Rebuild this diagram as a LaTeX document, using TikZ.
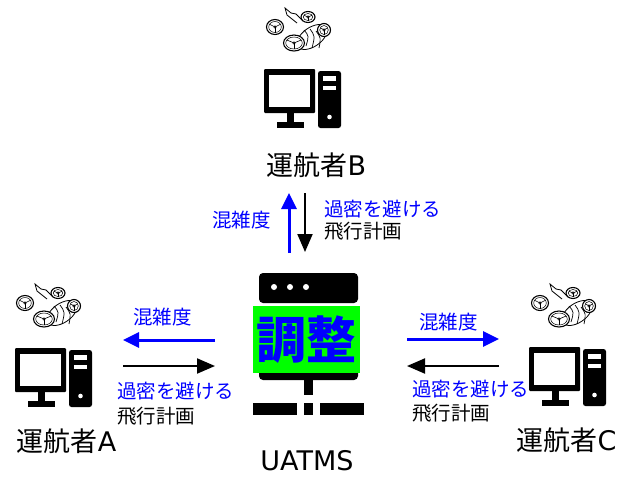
\documentclass[tikz,border=0pt]{standalone}
\usepackage{fontspec}
\setmainfont{DejaVu Sans}
\newfontfamily\cjk{Noto Sans CJK JP}
\usetikzlibrary{arrows.meta}
\definecolor{msgblue}{RGB}{0,0,255}
\definecolor{hlgreen}{RGB}{0,255,0}
\tikzset{
  lbl/.style={inner sep=0pt, font=\fontsize{27}{27}\selectfont},
  msg/.style={inner sep=0pt, anchor=west, font=\cjk\fontsize{19.5}{19.5}\selectfont},
  bluemsg/.style={msg, text=msgblue},
  bluearrow/.style={draw=msgblue, line width=3pt, -{Triangle[length=16pt,width=15pt]}},
  blackarrow/.style={draw=black, line width=2pt, -{Triangle[length=18pt,width=15pt]}},
  rotor/.style={draw=black, line width=1.1pt, fill=white},
  pics/computer/.style={code={
    % monitor
    \fill[rounded corners=1pt] (0,0) rectangle (51,44);
    \fill[white] (5,6) rectangle (46,38);
    \fill (23,44) rectangle (30,53);
    \fill (13,53) rectangle (40,59);
    % tower
    \fill[rounded corners=2.5pt] (54,2) rectangle (77,59);
    \fill[white] (59,7) rectangle (72,12);
    \fill[white] (59,16.5) rectangle (72,21);
    \fill[white] (65.5,48) circle (2.3);
  }},
  pics/drone/.style={code={
    % tail fin and boom
    \draw[line width=0.8pt, fill=white] (22,-4) -- (12,-12) -- (10,-19) -- (16,-14) -- (21,-13) -- (28,-6);
    % fuselage
    \draw[line width=0.8pt, fill=white, rotate around={35:(37,10)}] (37,10) ellipse [x radius=17, y radius=9.5];
    \draw[line width=0.7pt] (29,3) .. controls (34,9) .. (31,19);
    \draw[line width=0.7pt] (35,2) .. controls (40,9) .. (37,21);
    \draw[line width=0.7pt] (41,4) .. controls (46,11) .. (44,21);
    % rotors
    \foreach \cx/\cy/\rx/\ry in {33/-10/7/5.5, 49/3/6.5/6.5, 0/0/8.5/7.5, 19/16/10.5/8} {
      \draw[rotor] (\cx,\cy) ellipse [x radius=\rx, y radius=\ry];
      \draw[line width=0.5pt] (\cx,\cy) ellipse [x radius=\rx-2.2, y radius=\ry-2];
      \draw[line width=0.5pt] (\cx,\cy) circle (1.3);
      \foreach \a in {90,210,330}
        \draw[line width=0.6pt] (\cx,\cy) -- ++(\a:{\rx-2.2} and {\ry-2});
    }
  }}
}
\begin{document}
\begin{tikzpicture}[x=1pt, y=-1pt]
\useasboundingbox (0,0) rectangle (623,477);

% operator stations
\pic at (264,69) {computer};
\pic at (15,348) {computer};
\pic at (529,347) {computer};
\pic at (275,27) {drone};
\pic at (25,303) {drone};
\pic at (540,303) {drone};

\node[lbl] (opB) at (316.5,165) {{\cjk 運航者}B};
\node[lbl] (opA) at (66.5,441) {{\cjk 運航者}A};
\node[lbl] (opC) at (566.5,440) {{\cjk 運航者}C};

% UATMS server
\fill[rounded corners=4pt] (259,273) rectangle (358,303);
\foreach \dx in {274,290,306} \fill[white] (\dx,287) circle (3);
\fill[rounded corners=4pt] (259,340) rectangle (358,380);
\fill (304,380) rectangle (313,395);
\fill (253,403) rectangle (297,415);
\fill (304,403) rectangle (313,415);
\fill (320,403) rectangle (364,415);
\node[fill=hlgreen, minimum width=107pt, minimum height=67pt, inner sep=0pt,
      text=msgblue, font=\cjk\bfseries\fontsize{50}{50}\selectfont] (adj) at (306.5,339.5) {調整};
\node[lbl] (uatms) at (307,461) {UATMS};

% exchange with operator B
\coordinate (bU0) at (289,253); \coordinate (bU1) at (289,193);
\coordinate (bD0) at (305,193); \coordinate (bD1) at (305,252);
\draw[bluearrow] (bU0) -- (bU1);
\draw[blackarrow] (bD0) -- (bD1);
\node[msg, text=msgblue, anchor=east] (bCong) at (271,220) {混雑度};
\node[bluemsg] (bAvoid) at (324,209) {過密を避ける};
\node[msg] (bPlan) at (324,231) {飛行計画};

% exchange with operator A
\coordinate (aL0) at (215,340); \coordinate (aL1) at (123,340);
\coordinate (aR0) at (123,366); \coordinate (aR1) at (215,366);
\draw[bluearrow] (aL0) -- (aL1);
\draw[blackarrow] (aR0) -- (aR1);
\node[bluemsg] (aCong) at (133,317) {混雑度};
\node[bluemsg] (aAvoid) at (117,391) {過密を避ける};
\node[msg] (aPlan) at (117,416) {飛行計画};

% exchange with operator C
\coordinate (cR0) at (407,339); \coordinate (cR1) at (499,339);
\coordinate (cL0) at (499,366); \coordinate (cL1) at (407,366);
\draw[bluearrow] (cR0) -- (cR1);
\draw[blackarrow] (cL0) -- (cL1);
\node[bluemsg] (cCong) at (419,322) {混雑度};
\node[bluemsg] (cAvoid) at (412,389) {過密を避ける};
\node[msg] (cPlan) at (412,413) {飛行計画};
\end{tikzpicture}
\end{document}
